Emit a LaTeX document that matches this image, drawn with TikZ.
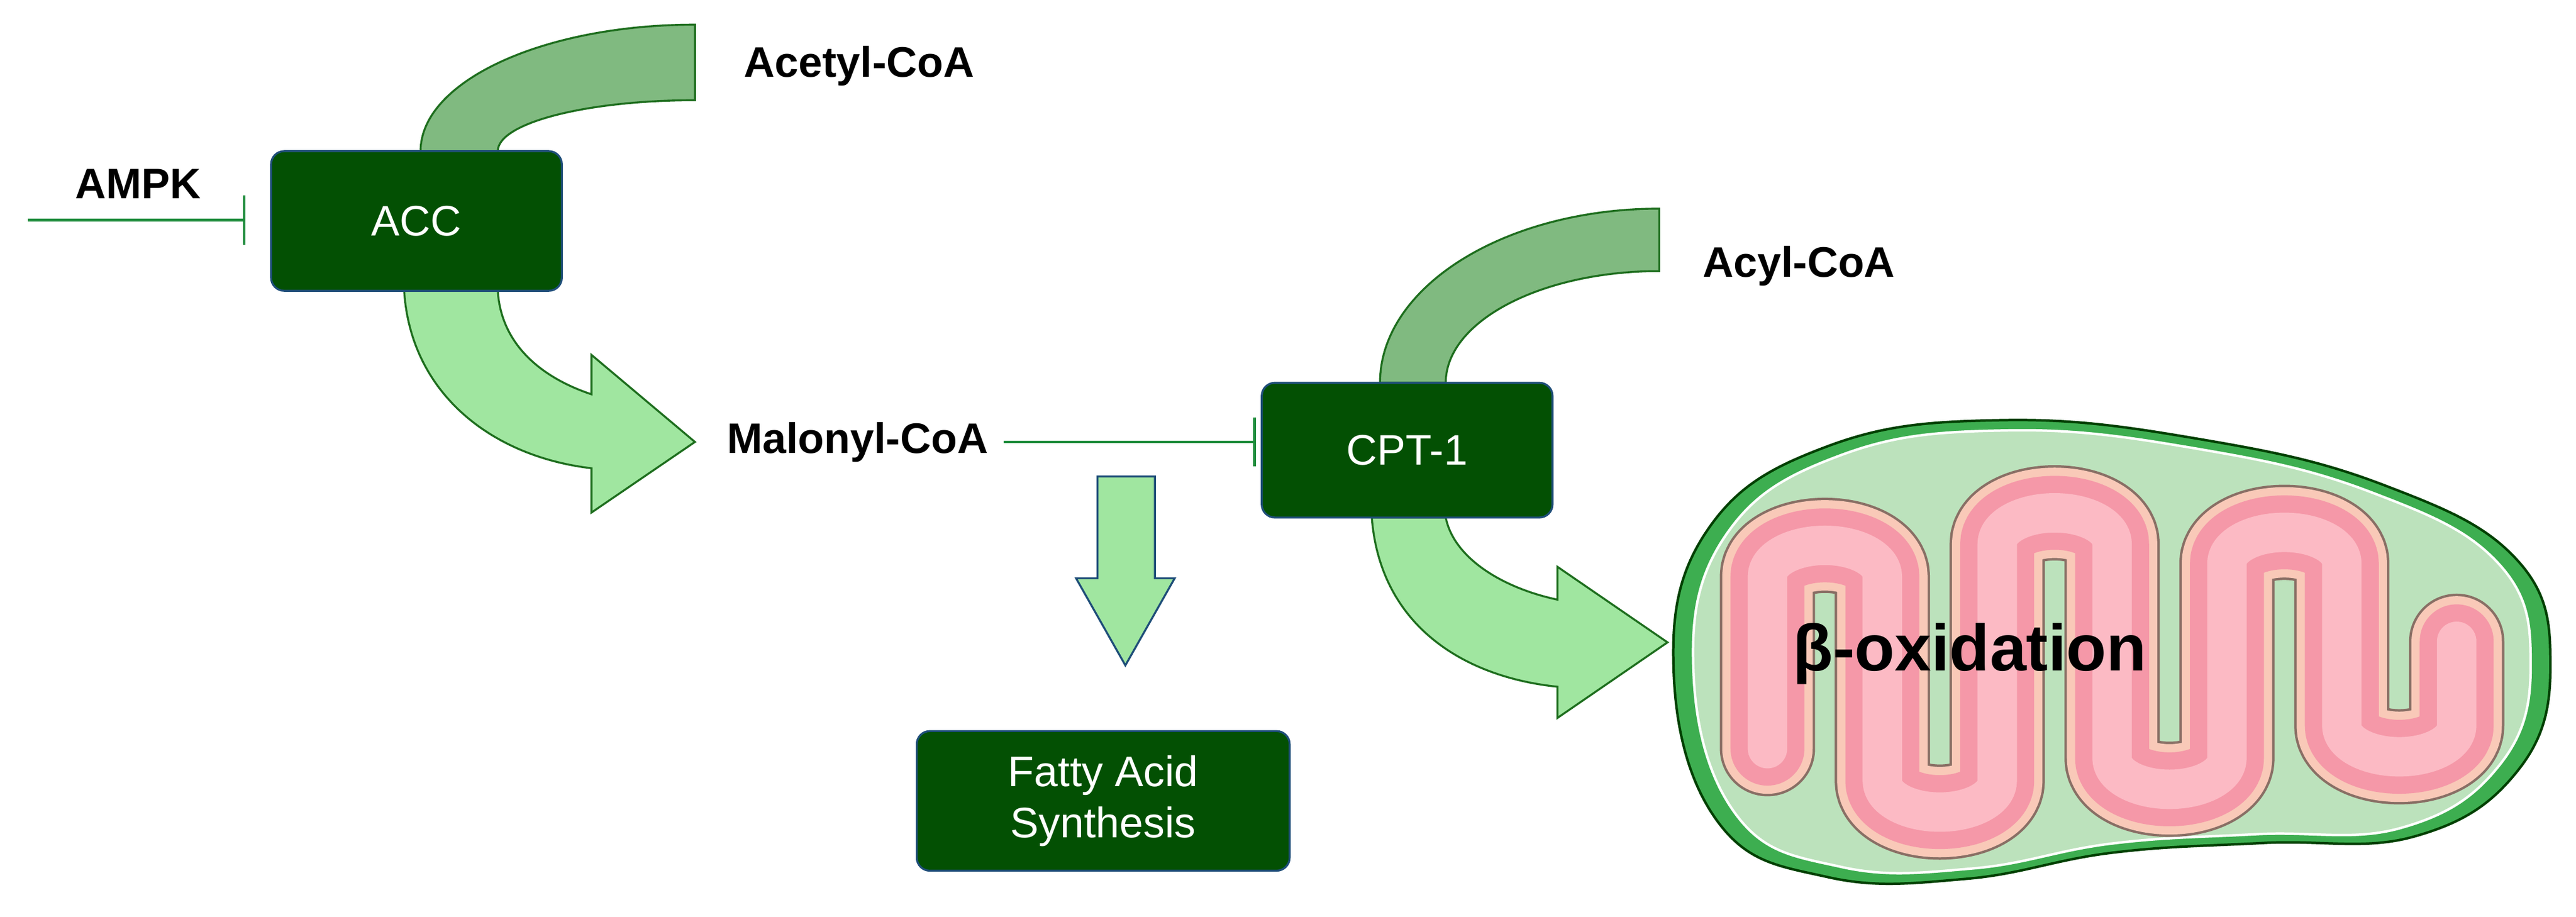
\documentclass[tikz,border=0pt]{standalone}
\usepackage{fontspec}
\setmainfont{Liberation Sans}
\usetikzlibrary{arrows.meta}
\definecolor{boxg}{HTML}{035003}
\definecolor{boxb}{HTML}{1F4E79}
\definecolor{midg}{HTML}{80BA80}
\definecolor{lightg}{HTML}{A0E6A0}
\definecolor{edgeg}{HTML}{1E6E1E}
\definecolor{inhg}{HTML}{1E8C3C}
\definecolor{mitog}{HTML}{3DAE50}
\definecolor{mitol}{HTML}{BCE2BC}
\definecolor{peach}{HTML}{F9C9B8}
\definecolor{pinkd}{HTML}{F598A8}
\definecolor{pinkl}{HTML}{FCBAC4}
\tikzset{
 box/.style={draw=boxb,line width=1.2pt,fill=boxg,rounded corners=8pt,text=white,font=\fontsize{26}{31}\selectfont,align=center},
 lbl/.style={font=\bfseries\fontsize{26}{31}\selectfont},
 band/.style={draw=edgeg,line width=1.2pt},
 inh/.style={draw=inhg,line width=1.6pt,-{Bar[width=30pt,line width=1.6pt]}},
}
\begin{document}
\begin{tikzpicture}[x=1pt,y=-1pt]
\useasboundingbox (0,0) rectangle (1568,558);
% acetyl band
\draw[band,fill=midg] (256,92) arc[start angle=180,end angle=270,x radius=167,y radius=77] -- (423,61) arc[start angle=270,end angle=180,x radius=120,y radius=31] -- cycle;
% acyl band
\draw[band,fill=midg] (840,233) arc[start angle=180,end angle=270,x radius=170,y radius=106] -- (1010,165) arc[start angle=270,end angle=180,x radius=130,y radius=68] -- cycle;
% ACC arrow
\draw[band,fill=lightg] (246,177) .. controls (250,240) and (300,278) .. (360,285) -- (360,312) -- (423,269) -- (360,216) -- (360,240) .. controls (330,230) and (305,210) .. (303,177) -- cycle;
% CPT arrow
\draw[band,fill=lightg] (835,315) .. controls (840,380) and (890,412) .. (948,418) -- (948,437) -- (1015,391) -- (948,345) -- (948,365) .. controls (915,358) and (885,340) .. (880,315) -- cycle;
% down arrow
\draw[draw=boxb,line width=1.2pt,fill=lightg] (668,290) -- (703,290) -- (703,352) -- (715,352) -- (685,405) -- (655,352) -- (668,352) -- cycle;
% mitochondrion
\begin{scope}[shift={(991.2,247.8)},xscale=0.368,yscale=0.198]
\def\mitopath{plot[smooth cycle,tension=0.7] coordinates{(75,820) (130,380) (330,120) (620,40) (950,100) (1250,240) (1470,470) (1525,800) (1470,1120) (1300,1320) (1050,1340) (800,1370) (560,1450) (330,1445) (150,1280)}}
\fill[mitog] \mitopath;
\draw[black!75!green,line width=1.5pt] \mitopath;
\begin{scope}[shift={(800,740)},scale=0.955,shift={(-800,-740)}]
\fill[mitol] \mitopath;
\draw[white,line width=1.5pt] \mitopath;
\end{scope}
\def\serp{(230,1050) -- (230,520) arc[start angle=180,end angle=360,radius=95] -- (420,1150) arc[start angle=180,end angle=0,radius=95] -- (610,420) arc[start angle=180,end angle=360,radius=95] -- (800,1080) arc[start angle=180,end angle=0,radius=95] -- (990,480) arc[start angle=180,end angle=360,radius=95] -- (1180,980) arc[start angle=180,end angle=0,radius=95] -- (1370,720)}
\draw[line cap=round,line join=round,line width=58pt,color=black!45!peach] \serp;
\draw[line cap=round,line join=round,line width=55pt,color=peach] \serp;
\draw[line cap=round,line join=round,line width=45pt,color=pinkd] \serp;
\draw[line cap=round,line join=round,line width=24pt,color=pinkl] \serp;
\end{scope}
\node[font=\bfseries\fontsize{40}{48}\selectfont] (beta) at (1199,398) {β-oxidation};
% boxes
\node[box,minimum width=177pt,minimum height=85pt] (acc) at (253.5,134.5) {ACC};
\node[box,minimum width=177pt,minimum height=82pt] (cpt) at (856.5,274) {CPT-1};
\node[box,minimum width=227pt,minimum height=85pt] (fas) at (671.5,487.5) {Fatty Acid\\Synthesis};
% labels
\node[lbl] (ampk) at (84,112) {AMPK};
\node[lbl] (acetyl) at (523,40) {Acetyl-CoA};
\node[lbl] (acyl) at (1095,162) {Acyl-CoA};
\node[lbl] (mal) at (522,269) {Malonyl-CoA};
\coordinate (ampkstart) at (17,134);
\draw[inh,shorten >=15pt] (ampkstart) -- (acc.west |- ampkstart);
\draw[inh,shorten <=6pt,shorten >=3pt] (mal.east) -- (mal.east -| cpt.west);
\end{tikzpicture}
\end{document}
